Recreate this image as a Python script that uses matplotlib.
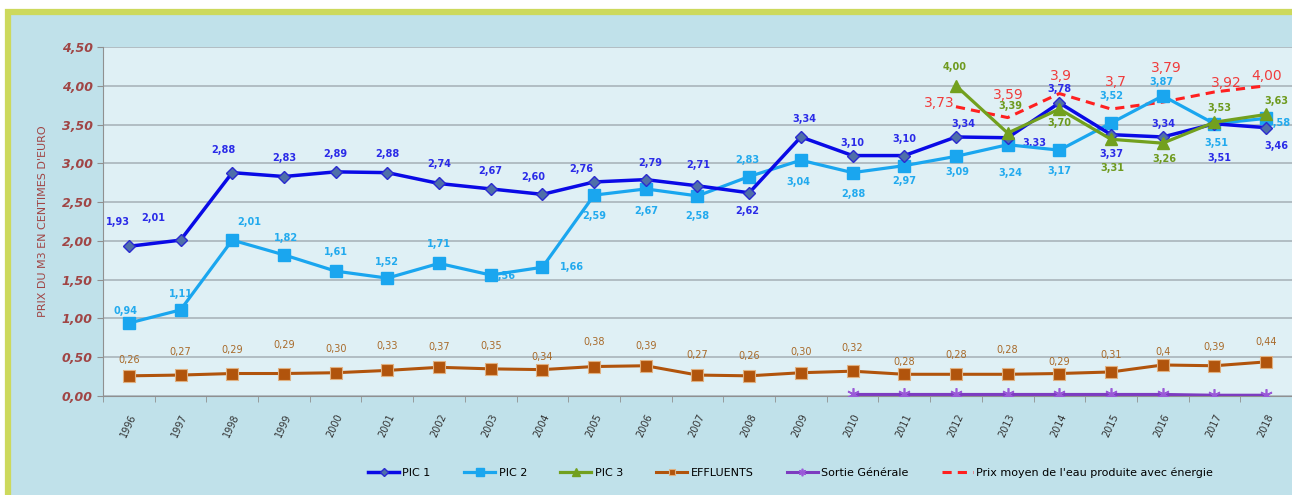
import numpy as np
import matplotlib.pyplot as plt
from matplotlib.patches import Rectangle

years = [str(y) for y in range(1996, 2019)]

pic1 = [1.93, 2.01, 2.88, 2.83, 2.89, 2.88, 2.74, 2.67, 2.60, 2.76, 2.79, 2.71,
        2.62, 3.34, 3.10, 3.10, 3.34, 3.33, 3.78, 3.37, 3.34, 3.51, 3.46]
pic2 = [0.94, 1.11, 2.01, 1.82, 1.61, 1.52, 1.71, 1.56, 1.66, 2.59, 2.67, 2.58,
        2.83, 3.04, 2.88, 2.97, 3.09, 3.24, 3.17, 3.52, 3.87, 3.51, 3.58]
pic3_years = years[16:]
pic3 = [4.00, 3.39, 3.70, 3.31, 3.26, 3.53, 3.63]
effluents = [0.26, 0.27, 0.29, 0.29, 0.30, 0.33, 0.37, 0.35, 0.34, 0.38, 0.39, 0.27,
             0.26, 0.30, 0.32, 0.28, 0.28, 0.28, 0.29, 0.31, 0.40, 0.39, 0.44]
effluents_txt = ["0,26", "0,27", "0,29", "0,29", "0,30", "0,33", "0,37", "0,35", "0,34",
                 "0,38", "0,39", "0,27", "0,26", "0,30", "0,32", "0,28", "0,28", "0,28",
                 "0,29", "0,31", "0,4", "0,39", "0,44"]
sortie_years = years[14:]
sortie = [0.02, 0.02, 0.02, 0.02, 0.02, 0.02, 0.02, 0.01, 0.01]
prix_years = years[16:]
prix = [3.73, 3.59, 3.90, 3.70, 3.79, 3.92, 4.00]
prix_txt = ["3,73", "3,59", "3,9", "3,7", "3,79", "3,92", "4,00"]

# label offsets in pixels (dx, dy with dy pointing down)
off1 = [(-11, -24), (-27, -22), (-9, -23), (0, -19), (0, -18), (0, -19), (0, -19), (0, -18),
        (-9, -17), (-13, -13), (4, -17), (1, -21), (-2, 18), (3, -18), (0, -13), (0, -17),
        (7, -13), (27, 5), (0, -14), (0, 19), (1, -13), (5, 34), (10, 18)]
off2 = [(-3, -12), (0, -16), (17, -18), (2, -17), (0, -19), (0, -16), (0, -19), (13, 1),
        (30, 0), (0, 21), (0, 22), (0, 20), (-2, -17), (-3, 22), (1, 21), (0, 15),
        (1, 16), (3, 28), (0, 21), (0, -27), (-1, -14), (2, 19), (12, 5)]
off3 = [(-1, -19), (3, -27), (0, 14), (1, 29), (2, 16), (5, -14), (10, -13)]
offp = [(-17, -4), (1, -23), (2, -18), (5, -27), (4, -34), (12, -9), (0, -10)]
offe = [(0, -16), (0, -23), (0, -24), (0, -29), (0, -24), (0, -24), (0, -20), (0, -23),
        (0, -13), (0, -25), (0, -20), (0, -20), (0, -20), (0, -21), (0, -23), (0, -12),
        (0, -19), (0, -24), (0, -12), (0, -17), (0, -13), (0, -19), (0, -20)]

fig = plt.figure(figsize=(12.92, 4.95), dpi=100, facecolor='white')
fig.patches.append(Rectangle((8 / 1292, -0.1), 1.2, 1 - 12 / 495 + 0.1,
                             transform=fig.transFigure, facecolor='#c0e1ea',
                             edgecolor='#cdd95c', linewidth=4.5, zorder=-10))

ax = fig.add_axes([103 / 1292, 99 / 495, 1 - 103 / 1292, 349 / 495])
ax.set_facecolor('#dff0f5')
x = np.arange(len(years))
xi = {y: i for i, y in enumerate(years)}


def lab(xs, ys, texts, offs, color, size, weight='bold'):
    for xv, yv, t, (dx, dy) in zip(xs, ys, texts, offs):
        ax.annotate(t, (xv, yv), xytext=(dx, -dy), textcoords='offset pixels',
                    ha='center', va='center', fontsize=size, color=color,
                    fontweight=weight, annotation_clip=False, clip_on=False)


def fr(v):
    return f"{v:.2f}".replace('.', ',')


ax.plot(x, pic1, color='#0a0ae6', lw=2.5, marker='D', ms=6.5,
        mfc='#4f6fa8', mec='#2a2ad0', mew=1, label='PIC 1', zorder=5)
ax.plot(x, pic2, color='#1aa6ef', lw=2.3, marker='s', ms=8.5,
        mfc='#1aa6ef', mec='#1aa6ef', label='PIC 2', zorder=4)
x3 = [xi[y] for y in pic3_years]
ax.plot(x3, pic3, color='#72a01e', lw=2.3, marker='^', ms=9,
        mfc='#72a01e', mec='#72a01e', label='PIC 3', zorder=6)
ax.plot(x, effluents, color='#b1540c', lw=2.2, marker='s', ms=8,
        mfc='#b1540c', mec='#e0b080', mew=0.8, label='EFFLUENTS', zorder=4)
xs = [xi[y] for y in sortie_years]
ax.plot(xs, sortie, color='#7d3cc0', lw=2.2, marker=(6, 2, 0), ms=9,
        mew=1.2, mec='#9a5ad8', label='Sortie Générale', zorder=4)
xp = [xi[y] for y in prix_years]
ax.plot(xp, prix, color='#ff2020', lw=2.2, ls=(0, (3, 2)),
        label="Prix moyen de l'eau produite avec énergie", zorder=3)

lab(x, pic1, [fr(v) for v in pic1], off1, '#2b2be8', 7)
lab(x, pic2, [fr(v) for v in pic2], off2, '#22aaee', 7)
lab(x3, pic3, [fr(v) for v in pic3], off3, '#6e9a1e', 7)
lab(x, effluents, effluents_txt, offe, '#a86a2a', 7, 'normal')
lab(xp, prix, prix_txt, offp, '#f03c3c', 10, 'normal')

ax.set_xlim(-0.5, len(years) - 0.5)
ax.set_ylim(0, 4.5)
ax.set_yticks(np.arange(0, 4.51, 0.5))
ax.set_yticklabels([fr(v) for v in np.arange(0, 4.51, 0.5)], fontsize=9,
                   fontstyle='italic', fontweight='bold', color='#a04545')
ax.set_xticks(x)
ax.set_xticklabels(years, rotation=65, fontsize=7, color='#333333',
                   ha='right', rotation_mode='anchor')
ax.set_xticks(np.arange(-0.5, len(years), 1), minor=True)
ax.tick_params(axis='x', which='major', length=0, pad=12)
ax.tick_params(axis='x', which='minor', length=4, color='#909090')
ax.tick_params(axis='y', length=4, color='#909090')
ax.grid(axis='y', color='#a9b4bb', lw=1.2)
ax.set_axisbelow(True)
for s in ['top', 'right']:
    ax.spines[s].set_visible(False)
for s in ['left', 'bottom']:
    ax.spines[s].set_color('#909090')
ax.set_ylabel("PRIX DU M3 EN CENTIMES D'EURO", fontsize=8, color='#a04545', labelpad=10)

fig.legend(loc='center', bbox_to_anchor=(0.612, 0.045), ncol=6, frameon=False,
           fontsize=8, handlelength=2.8, columnspacing=3.0, markerscale=0.6,
           handletextpad=0.3)

fig.savefig('out.png', dpi=100, facecolor=fig.get_facecolor())
